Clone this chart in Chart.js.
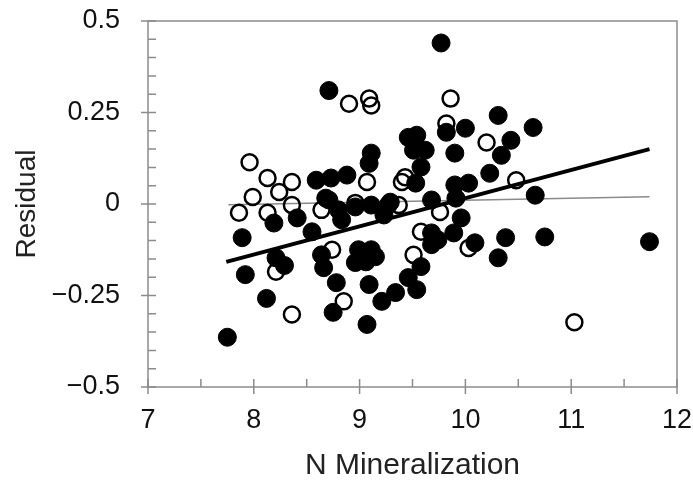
<!DOCTYPE html>
<html>
<head>
<meta charset="utf-8">
<script src="https://cdn.jsdelivr.net/npm/chart.js@4.4.0/dist/chart.umd.min.js"></script>
<style>
  html, body { margin: 0; padding: 0; background: #fff; }
  #wrap { width: 693px; height: 488px; }
</style>
</head>
<body>
<div id="wrap"><canvas id="myChart" width="693" height="488"></canvas></div>
<script>
// filled circles
var filledX = [7.75, 7.89, 7.92, 8.12, 8.19, 8.21, 8.29, 8.41, 8.55, 8.64, 8.66, 8.78, 8.75, 9.07,
  8.99, 9.11, 9.06, 9.15, 8.96, 9.09, 9.21, 9.34, 9.46, 8.71, 8.80, 8.83, 9.11, 9.27, 9.23,
  10.66, 9.68, 9.96, 9.68, 9.74, 9.68, 9.89, 10.09, 10.38, 10.31, 10.75, 11.74, 9.58, 9.54,
  9.91, 9.77, 10.31, 10.64, 10.43, 10.34, 10.23, 9.90, 9.82, 10.00, 9.46, 9.54, 9.62, 9.51,
  9.58, 9.53, 9.90, 10.03, 8.71, 9.11, 9.09, 8.59, 8.73, 8.88, 8.68, 8.96, 9.29];
var filledY = [-0.364, -0.092, -0.193, -0.258, -0.052, -0.147, -0.168, -0.038, -0.076, -0.139, -0.174, -0.215, -0.296, -0.329,
  -0.125, -0.125, -0.158, -0.144, -0.160, -0.220, -0.266, -0.242, -0.201, 0.011, -0.016, -0.043, -0.003, -0.003, -0.030,
  0.024, 0.011, -0.038, -0.079, -0.098, -0.111, -0.079, -0.106, -0.092, -0.147, -0.090, -0.103, -0.171, -0.234,
  0.016, 0.440, 0.242, 0.209, 0.174, 0.133, 0.084, 0.139, 0.196, 0.207, 0.182, 0.188, 0.147, 0.147,
  0.101, 0.057, 0.052, 0.057, 0.310, 0.139, 0.111, 0.065, 0.071, 0.079, 0.016, -0.008, 0.005];

// open circles
var openX = [7.86, 8.13, 8.21, 8.36, 8.74, 8.85, 8.64, 8.96, 11.03, 9.51, 10.03, 9.58, 9.76, 9.37,
  9.86, 10.20, 10.48, 9.82, 9.43, 8.90, 9.09, 9.11, 7.96, 8.13, 8.36, 7.99, 8.24, 8.36, 9.07, 9.40];
var openY = [-0.024, -0.024, -0.185, -0.302, -0.125, -0.266, -0.016, 0.003, -0.323, -0.139, -0.120, -0.076, -0.022, -0.003,
  0.288, 0.168, 0.065, 0.220, 0.073, 0.274, 0.288, 0.269, 0.114, 0.071, 0.060, 0.019, 0.033, -0.003, 0.060, 0.060];

// regression line and reference line
var fitX = [7.74, 11.74];
var fitY = [-0.158, 0.150];
var refX = [7.76, 11.74];
var refY = [-0.002, 0.020];

var yTickValues = [-0.5, -0.25, 0, 0.25, 0.5];
var yTickLabels = ["\u22120.5", "\u22120.25", "0", "0.25", "0.5"];

function pts(xs, ys) {
  return xs.map(function (x, i) { return { x: x, y: ys[i] }; });
}

var axisColor = '#8c8c8c';
var fontFam = 'Liberation Sans, Arial, sans-serif';

// frame and tick marks (major ticks cross the axis, minor ticks point inward)
var framePlugin = {
  id: 'frame',
  afterDatasetsDraw: function (chart) {
    var c = chart.ctx, a = chart.chartArea;
    var xs = chart.scales.x, ys = chart.scales.y;
    c.save();
    c.strokeStyle = axisColor;
    c.lineWidth = 1.5;
    c.strokeRect(a.left, a.top, a.right - a.left, a.bottom - a.top);
    c.beginPath();
    for (var v = 7; v <= 12.001; v += 0.5) {
      var px = xs.getPixelForValue(v);
      var major = Math.abs(v - Math.round(v)) < 0.01;
      c.moveTo(px, a.bottom + (major ? 7 : 0));
      c.lineTo(px, a.bottom - 8);
    }
    for (var w = -0.5; w <= 0.5001; w += 0.05) {
      var py = ys.getPixelForValue(w);
      var maj = Math.abs(w * 4 - Math.round(w * 4)) < 0.01;
      c.moveTo(a.left - (maj ? 7 : 0), py);
      c.lineTo(a.left + 8, py);
    }
    c.stroke();
    c.restore();
  }
};

var ctx = document.getElementById('myChart');
var myChart = new Chart(ctx, {
  type: 'scatter',
  data: {
    datasets: [
      {
        type: 'line',
        data: pts(fitX, fitY),
        borderColor: '#000',
        borderWidth: 4,
        pointRadius: 0,
        fill: false,
        order: 0
      },
      {
        type: 'line',
        data: pts(refX, refY),
        borderColor: '#8a8a8a',
        borderWidth: 1.5,
        pointRadius: 0,
        fill: false,
        order: 3
      },
      {
        data: pts(filledX, filledY),
        backgroundColor: '#000',
        borderColor: '#000',
        borderWidth: 1,
        pointRadius: 9,
        order: 1
      },
      {
        data: pts(openX, openY),
        backgroundColor: 'rgba(255,255,255,0)',
        borderColor: '#000',
        borderWidth: 2.5,
        pointRadius: 8,
        order: 2
      }
    ]
  },
  options: {
    responsive: false,
    animation: false,
    layout: { padding: { left: 0, top: 21, right: 16, bottom: 0 } },
    plugins: {
      legend: { display: false },
      tooltip: { enabled: false }
    },
    scales: {
      x: {
        type: 'linear',
        min: 7,
        max: 12,
        grid: { display: false },
        border: { display: false },
        ticks: {
          stepSize: 1,
          padding: 9,
          color: '#111',
          font: { family: fontFam, size: 27 }
        },
        title: {
          display: true,
          text: 'N Mineralization',
          color: '#222',
          font: { family: fontFam, size: 30 },
          padding: { top: 0, bottom: 4 }
        },
        afterFit: function (scale) {
          scale.height = 101;
          scale.paddingLeft = 0;
          scale.paddingRight = 0;
        }
      },
      y: {
        type: 'linear',
        min: -0.5,
        max: 0.5,
        grid: { display: false },
        border: { display: false },
        afterBuildTicks: function (scale) {
          scale.ticks = yTickValues.map(function (v) { return { value: v }; });
        },
        ticks: {
          padding: 20,
          color: '#111',
          font: { family: fontFam, size: 27 },
          callback: function (value) {
            var i = yTickValues.indexOf(value);
            return i >= 0 ? yTickLabels[i] : '';
          }
        },
        title: {
          display: true,
          text: 'Residual',
          color: '#222',
          font: { family: fontFam, size: 28 },
          padding: { top: 10, bottom: 0 }
        },
        afterFit: function (scale) {
          scale.width = 148;
          scale.paddingTop = 0;
          scale.paddingBottom = 0;
        }
      }
    }
  },
  plugins: [framePlugin]
});
</script>
</body>
</html>
